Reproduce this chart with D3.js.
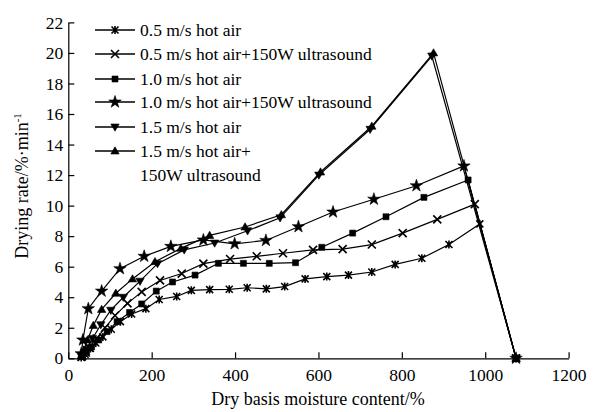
<!DOCTYPE html>
<html>
<head>
<meta charset="utf-8">
<script src="https://cdn.jsdelivr.net/npm/d3@7"></script>
<style>
  body { margin: 0; background: #fff; }
  svg { display: block; font-family: "Liberation Serif", "Times New Roman", serif; }
</style>
</head>
<body>
<script>
// drying rate vs dry basis moisture content
var xTicks = [0, 200, 400, 600, 800, 1000, 1200];
var yTicks = [0, 2, 4, 6, 8, 10, 12, 14, 16, 18, 20, 22];

var seriesNames = [
    "0.5 m/s hot air",
    "0.5 m/s hot air+150W ultrasound",
    "1.0 m/s hot air",
    "1.0 m/s hot air+150W ultrasound",
    "1.5 m/s hot air",
    ["1.5 m/s hot air+", "150W ultrasound"]
];

var air05 = [[1074,0],[987,8.8],[913,7.45],[848,6.55],[784,6.15],[728,5.65],[672,5.45],[620,5.35],[568,5.2],[519,4.7],[475,4.55],[429,4.62],[386,4.52],[339,4.5],[295,4.45],[260,4.05],[218,3.85],[186,3.25],[152,2.9],[125,2.4],[103,1.9],[83,1.4],[66,1.0],[53,0.65],[43,0.35],[35,0.15],[31,0.05]];
var air05us = [[1074,0],[975,10.1],[885,9.1],[802,8.2],[728,7.45],[658,7.15],[587,7.1],[515,6.88],[452,6.68],[388,6.5],[324,6.2],[272,5.55],[220,5.1],[176,4.35],[142,3.6],[112,2.8],[88,2.0],[68,1.3],[50,0.7],[39,0.3],[32,0.1]];
var air10 = [[1074,0],[959,11.68],[853,10.54],[762,9.27],[682,8.2],[608,7.27],[545,6.26],[482,6.22],[420,6.22],[360,6.22],[304,5.45],[250,5.0],[211,4.4],[176,3.56],[147,3.0],[117,2.4],[93,1.75],[73,1.2],[56,0.75],[44,0.4],[34,0.15]];
var air10us = [[1074,0],[949,12.6],[835,11.3],[733,10.42],[635,9.58],[552,8.62],[474,7.72],[399,7.5],[324,7.75],[246,7.33],[182,6.68],[124,5.87],[80,4.4],[48,3.25],[35,1.2],[31,0.3]];
var air15 = [[1074,0],[872,19.8],[724,15.0],[601,12.0],[508,9.2],[430,8.35],[351,7.55],[278,7.1],[214,6.2],[172,5.05],[132,4.0],[102,3.15],[78,2.2],[58,1.3],[44,0.6],[34,0.2]];
var air15us = [[1074,0],[876,20.0],[728,15.2],[605,12.2],[511,9.4],[424,8.6],[339,8.05],[270,7.2],[208,6.33],[154,5.2],[114,4.26],[80,3.2],[60,2.15],[46,1.2],[37,0.5],[32,0.15]];

var allSeries = [air05, air05us, air10, air10us, air15, air15us];
var markerKinds = ["asterisk", "times", "square", "star", "down", "up"];

var width = 599,
    height = 412;

var x = d3.scaleLinear().domain([0, 1200]).range([68.3, 568.6]);
var y = d3.scaleLinear().domain([0, 22]).range([358.3, 22.4]);

var svg = d3.select("body").append("svg")
    .attr("width", width)
    .attr("height", height);

// marker path for a kind, centred on 0,0
function markerPath(kind) {
    if (kind === "asterisk") return "M-3.5,-3.5L3.5,3.5M-3.5,3.5L3.5,-3.5M0,-4L0,4";
    if (kind === "times") return "M-4,-4L4,4M-4,4L4,-4";
    if (kind === "square") return "M-3,-3H3V3H-3Z";
    if (kind === "star") return d3.symbol().type(d3.symbolStar).size(48)();
    if (kind === "up") return "M0,-4.2L4.2,3L-4.2,3Z";
    if (kind === "down") return "M0,4.2L4.2,-3L-4.2,-3Z";
}

function drawMarker(sel, kind) {
    var stroked = (kind === "asterisk" || kind === "times");
    sel.append("path")
        .attr("d", markerPath(kind))
        .attr("fill", stroked ? "none" : "#000")
        .attr("stroke", "#000")
        .attr("stroke-width", stroked ? 1.6 : 0.6);
    if (kind === "asterisk") {
        sel.append("rect").attr("x", -1.6).attr("y", -1.6).attr("width", 3.2).attr("height", 3.2).attr("fill", "#000");
    }
}

// axes, ticks pointing inward
var xAxis = d3.axisBottom(x).tickValues(xTicks).tickFormat(d3.format("d"))
    .tickSizeInner(-6).tickSizeOuter(0).tickPadding(10);
var yAxis = d3.axisLeft(y).tickValues(yTicks).tickFormat(d3.format("d"))
    .tickSizeInner(-6).tickSizeOuter(0).tickPadding(5);

var gx = svg.append("g").attr("transform", "translate(0," + y(0) + ")").call(xAxis);
var gy = svg.append("g").attr("transform", "translate(" + x(0) + ",0)").call(yAxis);

[gx, gy].forEach(function(g) {
    g.selectAll("path, line").attr("stroke", "#000").attr("stroke-width", 1.2);
    g.selectAll("text")
        .attr("fill", "#000")
        .style("font-family", "'Liberation Serif', serif")
        .style("font-size", "17.5px");
});

svg.append("text")
    .attr("x", 318)
    .attr("y", 405)
    .attr("text-anchor", "middle")
    .style("font-size", "18px")
    .text("Dry basis moisture content/%");

var yTitle = svg.append("text")
    .attr("transform", "translate(28,186) rotate(-90)")
    .attr("text-anchor", "middle")
    .style("font-size", "18px");
yTitle.append("tspan").text("Drying rate/%·min");
yTitle.append("tspan").attr("dy", -7).style("font-size", "11px").text("-1");

// lines + markers
var line = d3.line()
    .x(function(d) { return x(d[0]); })
    .y(function(d) { return y(d[1]); });

allSeries.forEach(function(data, i) {
    svg.append("path")
        .datum(data)
        .attr("d", line)
        .attr("fill", "none")
        .attr("stroke", "#000")
        .attr("stroke-width", 1.2);

    svg.append("g").selectAll("g")
        .data(data)
        .enter().append("g")
        .attr("transform", function(d) { return "translate(" + x(d[0]) + "," + y(d[1]) + ")"; })
        .each(function() { drawMarker(d3.select(this), markerKinds[i]); });
});

// legend
var legendRows = [30, 54, 79, 102, 127, 151];
seriesNames.forEach(function(name, i) {
    var g = svg.append("g").attr("transform", "translate(95," + legendRows[i] + ")");
    g.append("line").attr("x1", 0).attr("x2", 40).attr("stroke", "#000").attr("stroke-width", 1.4);
    drawMarker(g.append("g").attr("transform", "translate(20,0)"), markerKinds[i]);
    var lines = Array.isArray(name) ? name : [name];
    lines.forEach(function(t, k) {
        g.append("text")
            .attr("x", 45)
            .attr("y", 6 + k * 24)
            .style("font-size", "17.5px")
            .text(t);
    });
});
</script>
</body>
</html>
